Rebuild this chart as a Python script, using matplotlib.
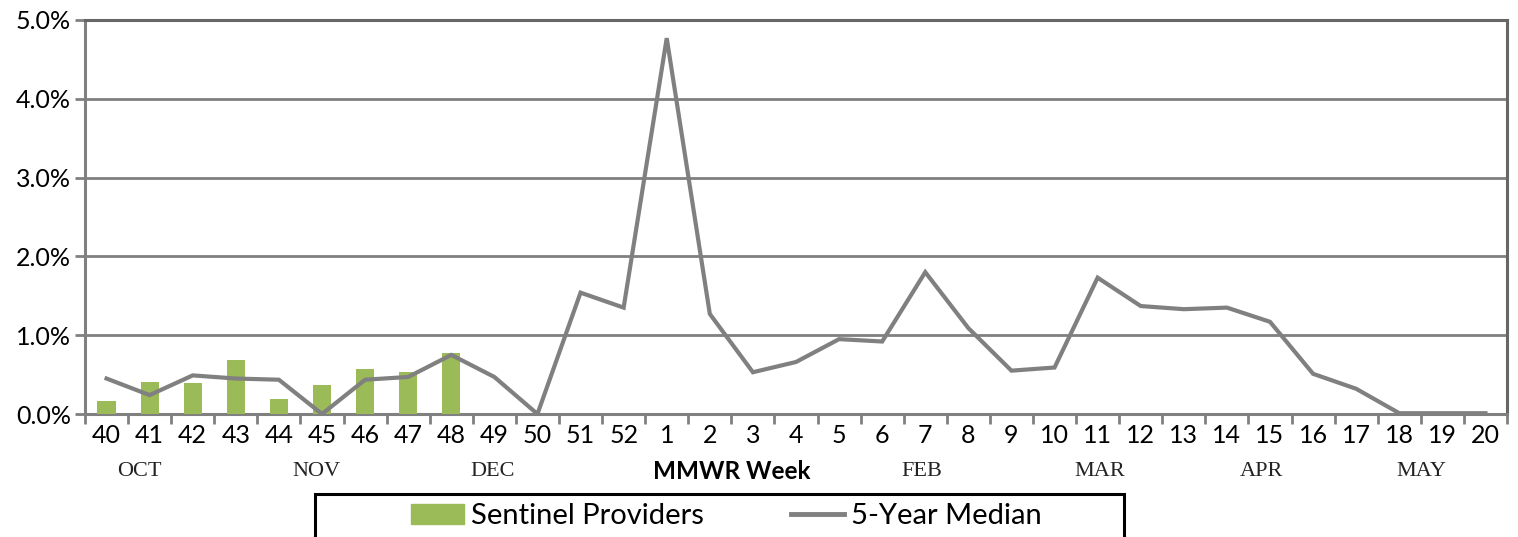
import matplotlib
matplotlib.use('Agg')
import matplotlib.pyplot as plt
from matplotlib.patches import Rectangle, Patch
from matplotlib.lines import Line2D

# data ---------------------------------------------------------------
weeks = ['40', '41', '42', '43', '44', '45', '46', '47', '48', '49', '50', '51', '52',
         '1', '2', '3', '4', '5', '6', '7', '8', '9', '10', '11', '12', '13', '14',
         '15', '16', '17', '18', '19', '20']
sentinel = [0.165, 0.41, 0.39, 0.68, 0.19, 0.365, 0.565, 0.53, 0.78]
median5 = [0.45, 0.24, 0.49, 0.45, 0.435, 0.0, 0.435, 0.47, 0.75, 0.47, 0.0,
           1.54, 1.35, 4.77, 1.27, 0.53, 0.66, 0.95, 0.92, 1.80, 1.09, 0.55,
           0.59, 1.73, 1.37, 1.33, 1.35, 1.17, 0.51, 0.32, 0.01, 0.01, 0.01]
months = ['OCT', 'NOV', 'DEC', 'FEB', 'MAR', 'APR', 'MAY']
month_pos = [0.77, 4.87, 8.96, 18.91, 23.06, 26.8, 30.52]

# figure -------------------------------------------------------------
fig = plt.figure(figsize=(15.18, 5.37), dpi=100)
ax = fig.add_axes([85 / 1518, 1 - 414 / 537, 1422 / 1518, 394 / 537])

gray = '#808080'
x = list(range(len(weeks)))

ax.bar(x[:len(sentinel)], sentinel, width=0.42, color='#9BBB59', zorder=3)
ax.plot(x, median5, color=gray, lw=3, zorder=4, solid_joinstyle='miter')

ax.set_xlim(-0.5, len(weeks) - 0.5)
ax.set_ylim(0, 5)
ax.set_yticks([0, 1, 2, 3, 4, 5])
ax.set_yticklabels([f'{v:.1f}%' for v in range(6)], fontsize=18, family='Lato')
ax.set_xticks(x)
ax.set_xticklabels(weeks, fontsize=18, family='Lato')
ax.set_xticks([i - 0.5 for i in range(len(weeks) + 1)], minor=True)
ax.tick_params(axis='x', which='major', length=0, pad=7)
ax.tick_params(axis='x', which='minor', length=7, width=2, color=gray, direction='out')
ax.tick_params(axis='y', length=7, width=2, color=gray, pad=3)

for v in [1, 2, 3, 4]:
    ax.axhline(v, color=gray, lw=2, zorder=1)
for s in ['left', 'bottom']:
    ax.spines[s].set_color(gray)
    ax.spines[s].set_linewidth(2.2)
for s in ['top', 'right']:
    ax.spines[s].set_color('#666666')
    ax.spines[s].set_linewidth(2.2)

# month labels
tr = ax.get_xaxis_transform()
for m, p in zip(months, month_pos):
    ax.text(p, -0.145, m, transform=tr, ha='center', va='center',
            fontsize=16, family='Liberation Serif', color='#222222')
ax.text(14.51, -0.145, 'MMWR Week', transform=tr, ha='center', va='center',
        fontsize=17.5, family='Lato', fontweight='bold')

# legend box
fig.patches.append(Rectangle((315 / 1518, -0.05), 809 / 1518, 0.05 + 1 - 494 / 537,
                             transform=fig.transFigure, fill=False,
                             edgecolor='black', lw=2.2))
handles = [Patch(color='#9BBB59'), Line2D([0], [0], color=gray, lw=3.5)]
fig.legend(handles, ['Sentinel Providers', '5-Year Median'], loc='center',
           bbox_to_anchor=(0.4785, 0.039), ncol=2, frameon=False,
           prop={'family': 'Lato', 'size': 21}, handlelength=1.8,
           handletextpad=0.25, columnspacing=3.0)

fig.savefig('out.png', dpi=100)
